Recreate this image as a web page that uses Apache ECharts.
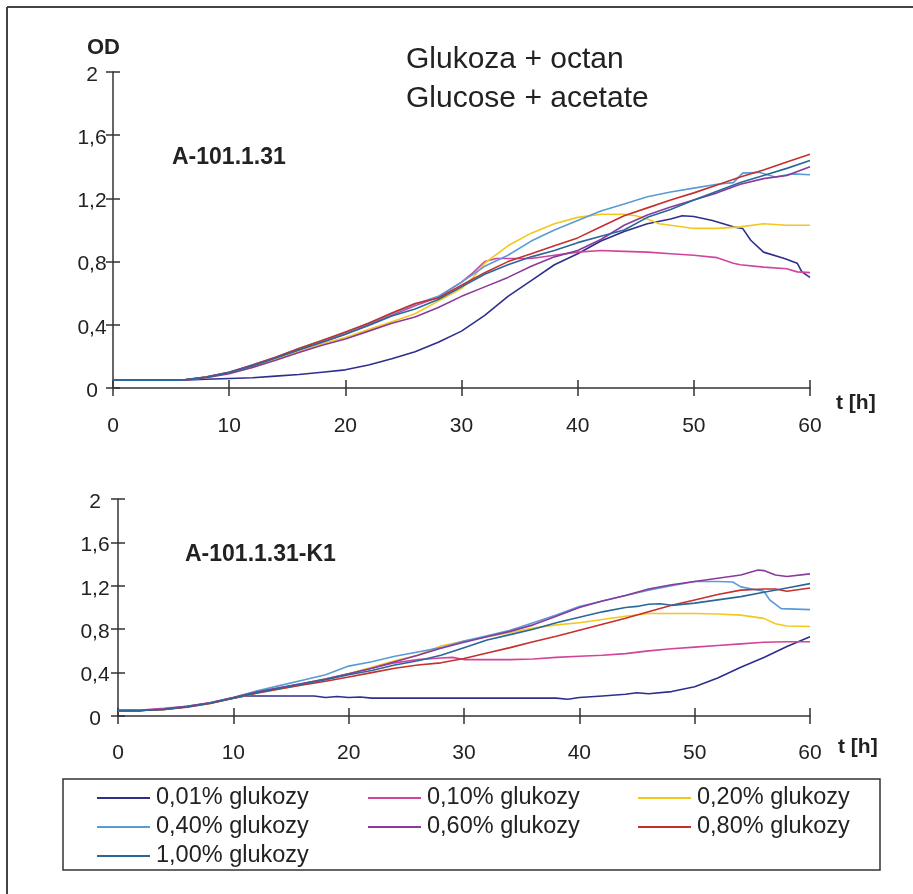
<!DOCTYPE html>
<html>
<head>
<meta charset="utf-8">
<script src="https://cdn.jsdelivr.net/npm/echarts@6/dist/echarts.min.js"></script>
<style>
html, body { margin: 0; padding: 0; background: #fff; }
#main { width: 913px; height: 894px; }
</style>
</head>
<body>
<div id="main"></div>
<script>
// nazwy serii
const names = ['0,01% glukozy', '0,10% glukozy', '0,20% glukozy', '0,40% glukozy',
               '0,60% glukozy', '0,80% glukozy', '1,00% glukozy'];
const colors = ['#2e2f8c', '#d2449b', '#f2c81e', '#5a9bd6', '#8a3a9c', '#c5302e', '#2a679a'];

// A-101.1.31  [t, OD]
const top001 = [[0,.05],[2,.05],[4,.05],[6,.05],[8,.055],[10,.06],[12,.065],[14,.075],[16,.085],[18,.10],[20,.115],[22,.145],[24,.185],[26,.23],[28,.29],[30,.36],[32,.46],[34,.58],[36,.68],[38,.78],[40,.85],[42,.93],[44,.99],[46,1.04],[48,1.07],[49,1.09],[50,1.085],[51.6,1.06],[53.4,1.02],[54.2,1.01],[54.9,.935],[56,.86],[57.8,.82],[58.9,.79],[59.3,.735],[60,.70]];
const top010 = [[0,.05],[2,.05],[4,.05],[6,.05],[8,.07],[10,.10],[12,.14],[14,.19],[16,.24],[18,.29],[20,.34],[22,.40],[24,.46],[26,.52],[28,.575],[30,.67],[31,.73],[32,.80],[33,.82],[36,.82],[38,.84],[40,.86],[42,.87],[44,.865],[46,.86],[48,.85],[50,.84],[52,.825],[53.4,.79],[54,.78],[56,.765],[58,.755],[58.9,.735],[60,.73]];
const top020 = [[0,.05],[2,.05],[4,.05],[6,.05],[8,.065],[10,.095],[12,.13],[14,.18],[16,.23],[18,.28],[20,.32],[22,.37],[24,.42],[26,.47],[28,.55],[30,.63],[31,.70],[32,.79],[34,.90],[36,.98],[38,1.04],[40,1.08],[42,1.10],[44,1.10],[45,1.09],[46,1.07],[47,1.04],[48,1.03],[50,1.01],[52,1.01],[54,1.02],[56,1.04],[58,1.03],[60,1.03]];
const top040 = [[0,.05],[2,.05],[4,.05],[6,.05],[8,.07],[10,.10],[12,.145],[14,.195],[16,.25],[18,.30],[20,.35],[22,.41],[24,.47],[26,.53],[28,.58],[30,.67],[32,.77],[34,.84],[36,.93],[38,1.00],[40,1.06],[42,1.12],[44,1.165],[46,1.21],[48,1.24],[50,1.265],[52,1.29],[53.4,1.30],[54.2,1.36],[55.6,1.365],[57,1.335],[58.5,1.355],[60,1.35]];
const top060 = [[0,.05],[2,.05],[4,.05],[6,.05],[8,.065],[10,.09],[12,.13],[14,.175],[16,.225],[18,.27],[20,.31],[22,.36],[24,.41],[26,.45],[28,.51],[30,.58],[32,.64],[34,.70],[36,.77],[38,.83],[40,.87],[42,.94],[44,1.03],[46,1.095],[48,1.145],[50,1.19],[52,1.235],[54,1.29],[56,1.325],[58,1.345],[60,1.40]];
const top080 = [[0,.05],[2,.05],[4,.05],[6,.05],[8,.07],[10,.10],[12,.145],[14,.195],[16,.25],[18,.30],[20,.355],[22,.41],[24,.475],[26,.535],[28,.57],[30,.65],[32,.73],[34,.80],[36,.85],[38,.90],[40,.95],[42,1.02],[44,1.09],[46,1.14],[48,1.19],[50,1.235],[52,1.285],[54,1.335],[56,1.38],[58,1.43],[60,1.48]];
const top100 = [[0,.05],[2,.05],[4,.05],[6,.05],[8,.068],[10,.098],[12,.14],[14,.19],[16,.24],[18,.29],[20,.34],[22,.395],[24,.455],[26,.50],[28,.56],[30,.64],[32,.72],[34,.78],[36,.83],[38,.87],[40,.92],[42,.96],[44,1.00],[46,1.08],[48,1.13],[50,1.19],[52,1.245],[54,1.30],[56,1.345],[58,1.39],[60,1.44]];

// A-101.1.31-K1  [t, OD]
const bot001 = [[0,.05],[2,.05],[4,.06],[6,.085],[8,.12],[10,.165],[11,.185],[14,.185],[17,.185],[18,.17],[19,.18],[20,.17],[21,.175],[22,.165],[26,.165],[30,.165],[34,.165],[38,.165],[39,.155],[40,.17],[42,.185],[44,.20],[45,.215],[46,.205],[48,.225],[50,.27],[52,.35],[54,.45],[56,.54],[58,.64],[60,.73]];
const bot010 = [[0,.05],[2,.055],[4,.07],[6,.09],[8,.125],[10,.17],[12,.22],[14,.26],[16,.30],[18,.34],[20,.39],[22,.44],[24,.49],[26,.52],[28,.535],[29,.54],[30,.52],[32,.52],[34,.52],[36,.525],[38,.54],[40,.55],[42,.56],[44,.575],[46,.60],[48,.62],[50,.635],[52,.65],[54,.665],[56,.68],[58,.685],[60,.685]];
const bot020 = [[0,.05],[2,.05],[4,.06],[6,.085],[8,.115],[10,.165],[12,.21],[14,.25],[16,.29],[18,.34],[20,.39],[22,.45],[24,.51],[26,.56],[28,.645],[30,.69],[32,.73],[34,.77],[36,.81],[38,.84],[40,.86],[42,.89],[44,.92],[46,.945],[48,.945],[50,.945],[52,.94],[54,.93],[56,.90],[57,.85],[58,.83],[60,.825]];
const bot040 = [[0,.05],[2,.05],[4,.065],[6,.09],[8,.12],[10,.17],[12,.23],[14,.28],[16,.33],[18,.38],[20,.46],[22,.50],[24,.55],[26,.59],[28,.63],[30,.69],[32,.74],[34,.79],[36,.86],[38,.93],[40,1.01],[42,1.06],[44,1.11],[46,1.16],[48,1.20],[50,1.24],[52,1.24],[53.3,1.235],[54,1.19],[56,1.15],[56.5,1.07],[57.5,.99],[60,.98]];
const bot060 = [[0,.05],[2,.05],[4,.065],[6,.09],[8,.12],[10,.17],[12,.22],[14,.26],[16,.30],[18,.34],[20,.39],[22,.44],[24,.50],[26,.56],[28,.625],[30,.68],[32,.73],[34,.78],[36,.84],[38,.92],[40,1.00],[42,1.06],[44,1.11],[46,1.17],[48,1.21],[50,1.24],[52,1.27],[54,1.30],[55.5,1.345],[56,1.34],[57,1.30],[58,1.285],[60,1.31]];
const bot080 = [[0,.05],[2,.05],[4,.06],[6,.08],[8,.115],[10,.165],[12,.21],[14,.25],[16,.285],[18,.32],[20,.36],[22,.40],[24,.44],[26,.47],[28,.49],[30,.53],[32,.58],[34,.63],[36,.685],[38,.735],[40,.79],[42,.845],[44,.90],[46,.96],[48,1.02],[50,1.07],[52,1.12],[54,1.16],[56,1.17],[57,1.17],[58,1.15],[60,1.18]];
const bot100 = [[0,.05],[2,.05],[4,.06],[6,.085],[8,.12],[10,.165],[12,.215],[14,.255],[16,.295],[18,.335],[20,.38],[22,.42],[24,.47],[26,.51],[28,.56],[30,.63],[32,.70],[34,.75],[36,.80],[38,.86],[40,.91],[42,.96],[44,1.00],[45,1.01],[46,1.03],[47,1.035],[48,1.02],[50,1.04],[52,1.07],[54,1.10],[56,1.14],[58,1.18],[60,1.22]];

const topData = [top001, top010, top020, top040, top060, top080, top100];
const botData = [bot001, bot010, bot020, bot040, bot060, bot080, bot100];

const xTicks = { min: 0, max: 60, interval: 10 };
const yTicks = { min: 0, max: 2, interval: 0.4 };

const FONT = '"Liberation Sans", Arial, sans-serif';
const TXT = '#222';
const AX = '#333';

function fmtComma(v) {
    return String(+v.toFixed(1)).replace('.', ',');
}

// os glowna + druga os tylko dla kresek do srodka (kreski przecinaja os)
function xAxes(grid, margin) {
    return [{
        type: 'value', gridIndex: grid, min: xTicks.min, max: xTicks.max, interval: xTicks.interval,
        axisLine: { lineStyle: { color: AX, width: 1.5 } },
        axisTick: { length: 8, lineStyle: { color: AX, width: 1.5 } },
        axisLabel: { margin: margin, fontSize: 21, color: TXT, fontFamily: FONT },
        splitLine: { show: false }
    }, {
        type: 'value', gridIndex: grid, position: 'bottom', min: xTicks.min, max: xTicks.max, interval: xTicks.interval,
        axisLine: { show: false },
        axisTick: { inside: true, length: 8, lineStyle: { color: AX, width: 1.5 } },
        axisLabel: { show: false },
        splitLine: { show: false }
    }];
}

function yAxes(grid, margin) {
    return [{
        type: 'value', gridIndex: grid, min: yTicks.min, max: yTicks.max, interval: yTicks.interval,
        axisLine: { show: true, lineStyle: { color: AX, width: 1.5 } },
        axisTick: { show: true, length: 7, lineStyle: { color: AX, width: 1.5 } },
        // etykiety troche ponizej kreski, jak w oryginale
        axisLabel: { margin: margin, align: 'center', verticalAlign: 'top', lineHeight: 6,
                     fontSize: 21, color: TXT, fontFamily: FONT, formatter: fmtComma },
        splitLine: { show: false }
    }, {
        type: 'value', gridIndex: grid, position: 'left', min: yTicks.min, max: yTicks.max, interval: yTicks.interval,
        axisLine: { show: false },
        axisTick: { show: true, inside: true, length: 7, lineStyle: { color: AX, width: 1.5 } },
        axisLabel: { show: false },
        splitLine: { show: false }
    }];
}

const series = [];
topData.forEach((d, i) => {
    series.push({
        name: names[i], type: 'line', xAxisIndex: 0, yAxisIndex: 0, data: d,
        symbol: 'none', color: colors[i], lineStyle: { width: 1.6 }, z: 3
    });
});
botData.forEach((d, i) => {
    series.push({
        name: names[i], type: 'line', xAxisIndex: 2, yAxisIndex: 2, data: d,
        symbol: 'none', color: colors[i], lineStyle: { width: 1.6 }, z: 3
    });
});

const legendBase = {
    orient: 'vertical', itemWidth: 53, itemHeight: 14, itemGap: 5, padding: 0,
    textStyle: { fontSize: 23.5, color: TXT, fontFamily: FONT, padding: [0, 0, 0, 1] },
    icon: 'path://M0,0 L53,0 L53,2 L0,2 Z',
    selectedMode: false, top: 786
};

const option = {
    animation: false,
    backgroundColor: '#fff',
    grid: [
        { left: 113, top: 72, width: 697, height: 316 },
        { left: 118, top: 499, width: 692, height: 217 }
    ],
    xAxis: [...xAxes(0, 28), ...xAxes(1, 27)],
    yAxis: [...yAxes(0, 21), ...yAxes(1, 23)],
    legend: [
        Object.assign({}, legendBase, { left: 97, data: [names[0], names[3], names[6]] }),
        Object.assign({}, legendBase, { left: 368, data: [names[1], names[4]] }),
        Object.assign({}, legendBase, { left: 638, data: [names[2], names[5]] })
    ],
    graphic: [
        // ramka
        { type: 'line', shape: { x1: 7, y1: 7, x2: 913, y2: 7 }, style: { stroke: '#444', lineWidth: 2 } },
        { type: 'line', shape: { x1: 7, y1: 7, x2: 7, y2: 894 }, style: { stroke: '#444', lineWidth: 2 } },
        { type: 'rect', shape: { x: 63, y: 779, width: 817, height: 91 }, style: { fill: 'none', stroke: '#333', lineWidth: 1.5 } },
        // teksty
        { type: 'text', left: 406, top: 45, style: { text: 'Glukoza + octan', fontSize: 30, fill: TXT, fontFamily: FONT } },
        { type: 'text', left: 406, top: 84, style: { text: 'Glucose + acetate', fontSize: 30, fill: TXT, fontFamily: FONT } },
        { type: 'text', left: 87, top: 37, style: { text: 'OD', fontSize: 22, fontWeight: 'bold', fill: TXT, fontFamily: FONT } },
        { type: 'text', left: 172, top: 146, style: { text: 'A-101.1.31', fontSize: 23, fontWeight: 'bold', fill: TXT, fontFamily: FONT } },
        { type: 'text', left: 185, top: 543, style: { text: 'A-101.1.31-K1', fontSize: 23, fontWeight: 'bold', fill: TXT, fontFamily: FONT } },
        { type: 'text', left: 836, top: 393, style: { text: 't [h]', fontSize: 21, fontWeight: 'bold', fill: TXT, fontFamily: FONT } },
        { type: 'text', left: 838, top: 737, style: { text: 't [h]', fontSize: 21, fontWeight: 'bold', fill: TXT, fontFamily: FONT } }
    ],
    series: series
};

const myChart = echarts.init(document.getElementById('main'));
myChart.setOption(option);
</script>
</body>
</html>
